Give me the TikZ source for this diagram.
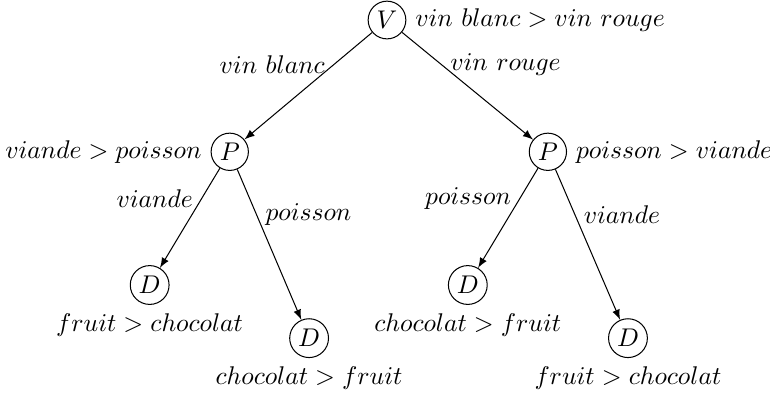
\documentclass[tikz,border=0pt]{standalone}
\usepackage{amsmath, amssymb}
\usetikzlibrary{arrows}

\begin{document}
\begin{tikzpicture}[etat/.style={circle, draw, inner sep=1.5pt}]
\useasboundingbox (-5.316,-5.137) rectangle (5.261,0.275);
% racine
\node[etat, label=right:{$vin\ blanc > vin\ rouge$}] (V) at (0,0) {$V$};
% plats
\node[etat, label=left:{$viande > poisson$}] (P1) at (-2.16,-1.81) {$P$};
\node[etat, label=right:{$poisson > viande$}] (P2) at (2.21,-1.81) {$P$};
% desserts
\node[etat, label=below:{$fruit > chocolat$}] (D1) at (-3.26,-3.64) {$D$};
\node[etat, label=below:{$chocolat > fruit$}] (D2) at (-1.07,-4.37) {$D$};
\node[etat, label=below:{$chocolat > fruit$}] (D3) at (1.11,-3.64) {$D$};
\node[etat, label=below:{$fruit > chocolat$}] (D4) at (3.31,-4.37) {$D$};

\draw[-latex] (V) -- node[left, pos=0.3] {$vin\ blanc$} (P1);
\draw[-latex] (V) -- node[right, pos=0.3] {$vin\ rouge$} (P2);
\draw[-latex] (P1) -- node[left, pos=0.3] {$viande$} (D1);
\draw[-latex] (P1) -- node[right, pos=0.3] {$poisson$} (D2);
\draw[-latex] (P2) -- node[left, pos=0.3] {$poisson$} (D3);
\draw[-latex] (P2) -- node[right, pos=0.3] {$viande$} (D4);
\end{tikzpicture}
\end{document}
